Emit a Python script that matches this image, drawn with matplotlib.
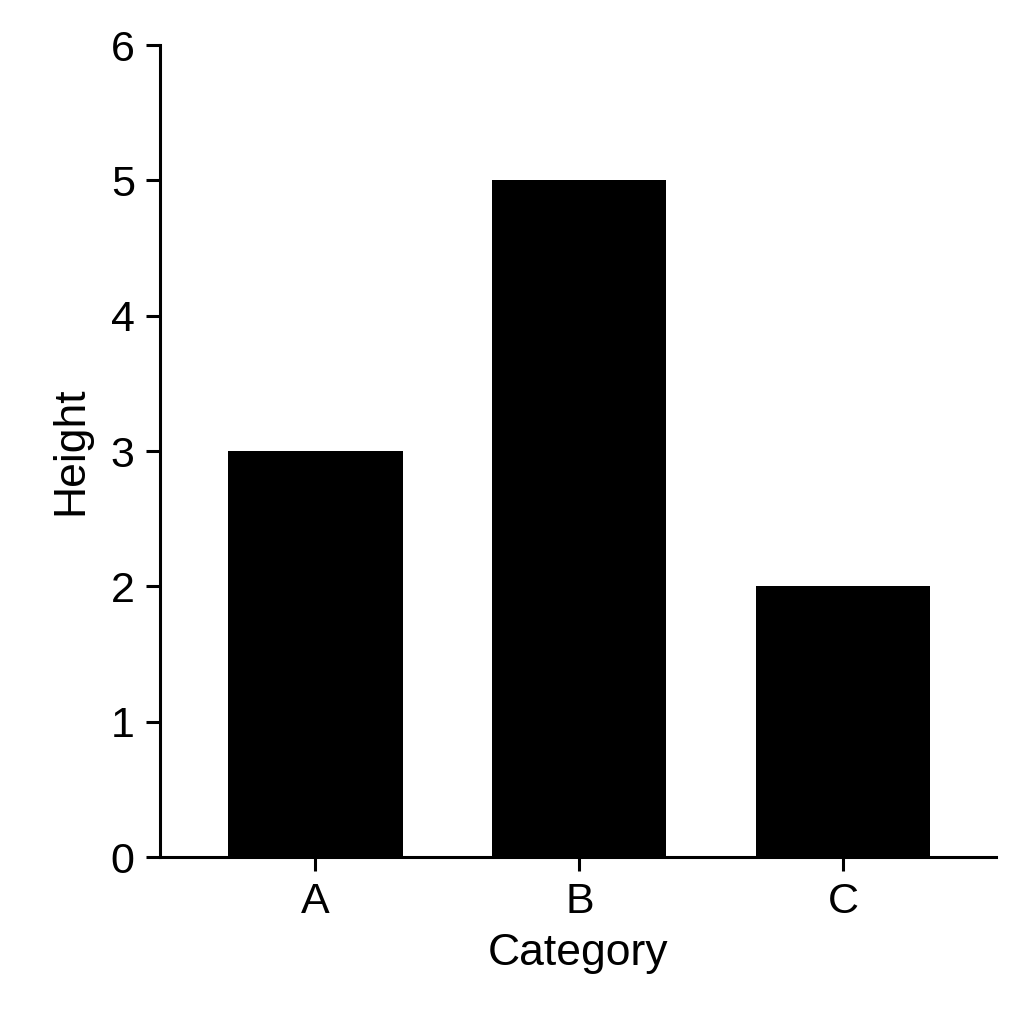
import matplotlib
matplotlib.use("Agg")
import matplotlib.pyplot as plt

categories = ["A", "B", "C"]
heights = [3, 5, 2]
y_ticks = [0, 1, 2, 3, 4, 5, 6]

plt.rcParams['font.family'] = ['Liberation Sans', 'DejaVu Sans']

fig = plt.figure(figsize=(10.24, 10.24), dpi=100)
ax = fig.add_axes([0.156, 0.163, 0.817, 0.793])

ax.bar(range(len(categories)), heights, width=0.66, color="black")
ax.set_xticks(range(len(categories)))
ax.set_xticklabels(categories)
ax.set_yticks(y_ticks)
ax.set_xlim(-0.59, 2.58)
ax.set_ylim(0, 6)

ax.set_xlabel("Category", fontsize=32, labelpad=8)
ax.set_ylabel("Height", fontsize=32, labelpad=14)
ax.tick_params(labelsize=31, width=2.2, length=10, pad=8)

for side in ["top", "right"]:
    ax.spines[side].set_visible(False)
for side in ["left", "bottom"]:
    ax.spines[side].set_linewidth(2.2)

fig.savefig("out.png", dpi=100)
